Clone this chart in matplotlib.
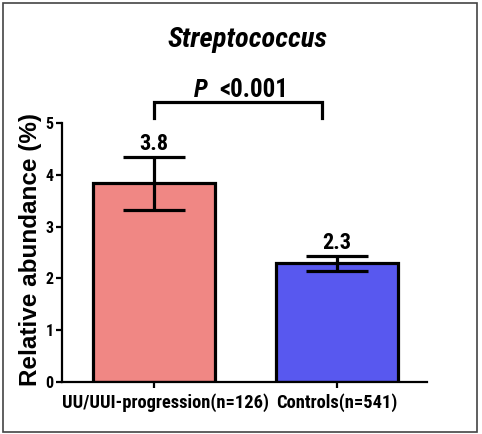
import matplotlib
matplotlib.use("Agg")
import matplotlib.pyplot as plt
from matplotlib.patches import Rectangle
import matplotlib.transforms as mtransforms
from matplotlib.font_manager import FontProperties

COND = ['Roboto Condensed', 'DejaVu Sans']
plt.rcParams['font.family'] = COND

categories = ["UU/UUI-progression(n=126)", "Controls(n=541)"]
means = [3.84, 2.30]
err_low = [3.32, 2.15]
err_high = [4.35, 2.44]
value_labels = ["3.8", "2.3"]
colors = ["#F08784", "#5858EF"]
yticks = [0, 1, 2, 3, 4, 5]
label_shift_px = [11, 0]

W, H = 482, 434
fig = plt.figure(figsize=(W / 100, H / 100), dpi=100)
ax = fig.add_axes([62 / W, (H - 382) / H, (427 - 62) / W, (382 - 123) / H])

x = list(range(len(categories)))
yerr = [[m - l for m, l in zip(means, err_low)], [h - m for m, h in zip(means, err_high)]]
ax.bar(x, means, width=0.667, color=colors, edgecolor='black', linewidth=2.3, zorder=2)
ax.errorbar(x, means, yerr=yerr, fmt='none', ecolor='black', elinewidth=2.3,
            capsize=22, capthick=2.3, zorder=3)
for xi, h, lab in zip(x, err_high, value_labels):
    ax.text(xi, h + 0.13, lab, ha='center', va='baseline', fontsize=16, fontweight='bold')

ax.set_xlim(-0.503, 1.492)
ax.set_ylim(0, 5)
ax.set_yticks(yticks)
ax.set_yticklabels([str(t) for t in yticks], fontsize=11.5, fontweight='bold')
ax.set_xticks(x)
ax.set_xticklabels([''] * len(x))
base = mtransforms.blended_transform_factory(ax.transData, ax.transAxes)
for xi, cat, sh in zip(x, categories, label_shift_px):
    tr = base + mtransforms.ScaledTranslation(sh / 100, -26 / 100, fig.dpi_scale_trans)
    ax.text(xi, 0, cat, transform=tr, ha='center', va='baseline', fontsize=13.3,
            fontweight='bold', clip_on=False)
for s in ['top', 'right']:
    ax.spines[s].set_visible(False)
for s in ['left', 'bottom']:
    ax.spines[s].set_linewidth(1.6)
ax.tick_params(axis='both', width=1.6, length=4)
ax.tick_params(axis='y', pad=2)

fp_y = FontProperties(family=['Liberation Sans', 'DejaVu Sans'], weight='bold', size=17.5)
fig.text(31 / W, 1 - 250 / H, "Relative abundance (%)", rotation=90, ha='center', va='center',
         fontproperties=fp_y)

# significance bracket
ax.plot([0, 0, 0.918, 0.918], [5.1, 5.41, 5.41, 5.1], color='black', lw=2.3,
        clip_on=False, solid_joinstyle='miter')
fig.text(208 / W, 1 - 97 / H, "P", ha='right', va='baseline',
         fontsize=18, fontweight='bold', style='italic')
fig.text(219 / W, 1 - 97 / H, "<0.001", ha='left', va='baseline',
         fontsize=18, fontweight='bold')
fig.text(247 / W, 1 - 47 / H, "Streptococcus", ha='center', va='baseline',
         fontsize=20.5, fontweight='bold', style='italic')

fig.patches.append(Rectangle((3 / W, 2.5 / H), 473.5 / W, 429 / H, transform=fig.transFigure,
                             fill=False, edgecolor='#444444', linewidth=1.2))

fig.savefig("out.png", dpi=100)
